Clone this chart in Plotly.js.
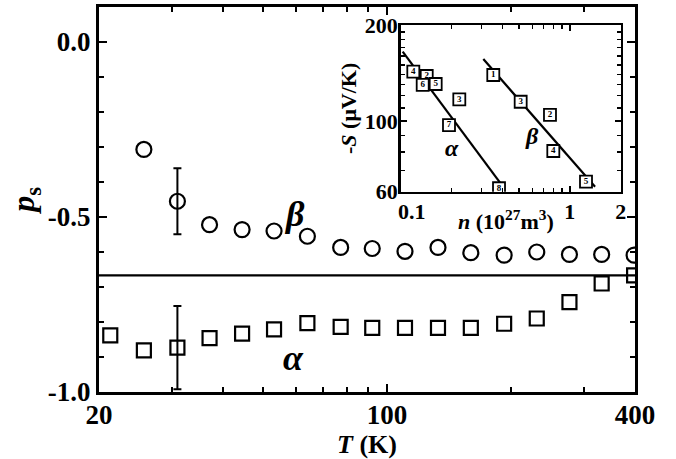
<!DOCTYPE html>
<html>
<head>
<meta charset="utf-8">
<script src="https://cdn.plot.ly/plotly-3.0.1.min.js"></script>
<style>
  html, body { margin: 0; padding: 0; background: #fff; }
  #chart { width: 676px; height: 459px; }
</style>
</head>
<body>
<div id="chart"></div>
<script>
// Spin polarization p_s versus temperature for the alpha and beta phases
const tempAlpha = [21.3, 25.7, 31, 37.1, 44.5, 53.2, 64.1, 77.2, 92.1, 110.6, 133, 159.8, 192.5, 231, 277.3, 332, 398];
const psAlpha   = [-0.838, -0.881, -0.873, -0.846, -0.833, -0.821, -0.803, -0.814, -0.817, -0.817, -0.817, -0.817, -0.805, -0.790, -0.743, -0.690, -0.667];
const errAlpha  = [null, null, 0.119, null, null, null, null, null, null, null, null, null, null, null, null, null, null];

const tempBeta = [25.7, 31, 37.1, 44.5, 53.2, 64.1, 77.2, 92.1, 110.6, 133, 159.8, 192.5, 231, 277.3, 332, 398];
const psBeta   = [-0.307, -0.455, -0.522, -0.536, -0.540, -0.555, -0.587, -0.590, -0.598, -0.587, -0.602, -0.609, -0.600, -0.607, -0.607, -0.609];
const errBeta  = [null, 0.094, null, null, null, null, null, null, null, null, null, null, null, null, null, null];

// Reference level p_s = -2/3
const psReference = -0.667;

// Inset: thermopower -S against carrier density n, labelled by sample number
const nAlpha   = [0.1187, 0.1425, 0.1349, 0.161, 0.2221, 0.193, 0.3814];
const sAlpha   = [142.8, 138.4, 129.7, 130.6, 116.9, 97.1, 61.5];
const idsAlpha = ['4', '2', '6', '5', '3', '7', '8'];

const nBeta   = [0.3528, 0.5123, 0.7636, 0.7989, 1.247];
const sBeta   = [139.4, 114.9, 104.5, 80.5, 64.5];
const idsBeta = ['1', '3', '2', '4', '5'];

// Fitted lines in the inset
const fitAlphaN = [0.1027, 0.4027];
const fitAlphaS = [165, 62.2];
const fitBetaN  = [0.308, 1.411];
const fitBetaS  = [156.4, 62.2];

const FONT = 'Liberation Serif, Times New Roman, serif';
const BLACK = '#000';
const FIG = '\u2007';
const toErr = a => a.map(v => (v === null ? NaN : v));

const traces = [
  {
    x: tempBeta, y: psBeta, type: 'scatter', mode: 'markers',
    marker: { symbol: 'circle-open', size: 15, color: BLACK, line: { width: 2.2, color: BLACK } },
    error_y: { type: 'data', array: toErr(errBeta), visible: true, color: BLACK, thickness: 2, width: 4 },
    xaxis: 'x', yaxis: 'y'
  },
  {
    x: tempAlpha, y: psAlpha, type: 'scatter', mode: 'markers',
    marker: { symbol: 'square-open', size: 14, color: BLACK, line: { width: 2.2, color: BLACK } },
    error_y: { type: 'data', array: toErr(errAlpha), visible: true, color: BLACK, thickness: 2, width: 4 },
    xaxis: 'x', yaxis: 'y'
  },
  {
    x: fitAlphaN, y: fitAlphaS, type: 'scatter', mode: 'lines',
    line: { color: BLACK, width: 2.2 }, xaxis: 'x2', yaxis: 'y2'
  },
  {
    x: fitBetaN, y: fitBetaS, type: 'scatter', mode: 'lines',
    line: { color: BLACK, width: 2.2 }, xaxis: 'x2', yaxis: 'y2'
  },
  {
    x: nAlpha, y: sAlpha, text: idsAlpha, type: 'scatter', mode: 'markers+text',
    textposition: 'middle center',
    textfont: { family: FONT, size: 9, color: BLACK, weight: 'bold' },
    marker: { symbol: 'square', size: 12, color: '#fff', line: { width: 1.8, color: BLACK } },
    xaxis: 'x2', yaxis: 'y2'
  },
  {
    x: nBeta, y: sBeta, text: idsBeta, type: 'scatter', mode: 'markers+text',
    textposition: 'middle center',
    textfont: { family: FONT, size: 9, color: BLACK, weight: 'bold' },
    marker: { symbol: 'square', size: 12, color: '#fff', line: { width: 1.8, color: BLACK } },
    xaxis: 'x2', yaxis: 'y2'
  }
];

const axisCommon = {
  showline: true, linecolor: BLACK, mirror: 'ticks',
  ticks: 'inside', tickcolor: BLACK, tickwidth: 2,
  showgrid: false, zeroline: false
};

const layout = {
  width: 676, height: 459,
  margin: { l: 99, r: 41, t: 7, b: 67 },
  paper_bgcolor: '#fff', plot_bgcolor: '#fff',
  showlegend: false,
  font: { family: FONT, color: BLACK, size: 26, weight: 'bold' },
  xaxis: Object.assign({}, axisCommon, {
    type: 'log', range: [Math.log10(20), Math.log10(400)],
    linewidth: 3, ticklen: 8,
    tickmode: 'array', tickvals: [20, 100, 400], ticktext: ['20', '100', '400'],
    tickfont: { family: FONT, size: 27, weight: 'bold' },
    ticklabelstandoff: -3,
    minor: { tickmode: 'array', tickvals: [30, 40, 50, 60, 70, 80, 90, 200, 300], ticks: 'inside', ticklen: 5, tickwidth: 2, tickcolor: BLACK, showgrid: false },
    title: { text: '<i>T</i> (K)', font: { family: FONT, size: 26, weight: 'bold' }, standoff: 0 }
  }),
  yaxis: Object.assign({}, axisCommon, {
    range: [-1.0, 0.1],
    linewidth: 3, ticklen: 8,
    tickmode: 'array', tickvals: [0, -0.5, -1.0], ticktext: ['0.0', '-0.5', '-1.0'],
    tickfont: { family: FONT, size: 27, weight: 'bold' },
    minor: { dtick: 0.1, tick0: 0, ticks: 'inside', ticklen: 5, tickwidth: 2, tickcolor: BLACK, showgrid: false },
    title: { text: '<i>p</i><sub>s</sub>', font: { family: FONT, size: 32, weight: 'bold' }, standoff: 4 }
  }),
  xaxis2: Object.assign({}, axisCommon, {
    anchor: 'y2', domain: [0.5629, 0.9733],
    type: 'log', range: [-1, Math.log10(2)],
    linewidth: 2.5, ticklen: 6,
    tickmode: 'array', tickvals: [0.1, 1, 2], ticktext: [FIG + FIG + '0.1', '1', '2'],
    tickfont: { family: FONT, size: 22, weight: 'bold' },
    ticklabelstandoff: -2,
    minor: { tickmode: 'array', tickvals: [0.2, 0.3, 0.4, 0.5, 0.6, 0.7, 0.8, 0.9], ticks: 'inside', ticklen: 4, tickwidth: 1.5, tickcolor: BLACK, showgrid: false }
  }),
  yaxis2: Object.assign({}, axisCommon, {
    anchor: 'x2', domain: [0.5203, 0.9532],
    type: 'log', range: [Math.log10(60), Math.log10(200)],
    linewidth: 2.5, ticklen: 6,
    tickmode: 'array', tickvals: [60, 100, 200], ticktext: ['60', '100', '200'],
    tickfont: { family: FONT, size: 22, weight: 'bold' },
    ticklabelstandoff: -4,
    minor: { tickmode: 'array', tickvals: [70, 80, 90, 110, 120, 130, 140, 150, 160, 170, 180, 190], ticks: 'inside', ticklen: 4, tickwidth: 1.5, tickcolor: BLACK, showgrid: false },
    title: { text: '-<i>S</i> (μV/K)', font: { family: FONT, size: 22, weight: 'bold' }, standoff: 2 }
  }),
  shapes: [
    { type: 'line', xref: 'x domain', yref: 'y', x0: 0, x1: 1, y0: psReference, y1: psReference,
      line: { color: BLACK, width: 2.2 }, layer: 'below' }
  ],
  annotations: [
    { xref: 'x2 domain', yref: 'y2 domain', x: 0.48, y: -0.17, text: '<i>n</i> (10<sup>27</sup>m<sup>3</sup>)',
      showarrow: false, xanchor: 'center', yanchor: 'middle',
      font: { family: FONT, size: 22, weight: 'bold', color: BLACK } },
    { xref: 'x', yref: 'y', x: Math.log10(59.5), y: -0.49, text: '<i>β</i>', showarrow: false,
      font: { family: FONT, size: 36, weight: 'bold', color: BLACK } },
    { xref: 'x', yref: 'y', x: Math.log10(59.2), y: -0.902, text: '<i>α</i>', showarrow: false,
      font: { family: FONT, size: 36, weight: 'bold', color: BLACK } },
    { xref: 'x2', yref: 'y2', x: Math.log10(0.2), y: Math.log10(82), text: '<i>α</i>', showarrow: false,
      font: { family: FONT, size: 24, weight: 'bold', color: BLACK } },
    { xref: 'x2', yref: 'y2', x: Math.log10(0.595), y: Math.log10(90), text: '<i>β</i>', showarrow: false,
      font: { family: FONT, size: 24, weight: 'bold', color: BLACK } }
  ]
};

Plotly.newPlot('chart', traces, layout, { staticPlot: true, displayModeBar: false });
</script>
</body>
</html>
